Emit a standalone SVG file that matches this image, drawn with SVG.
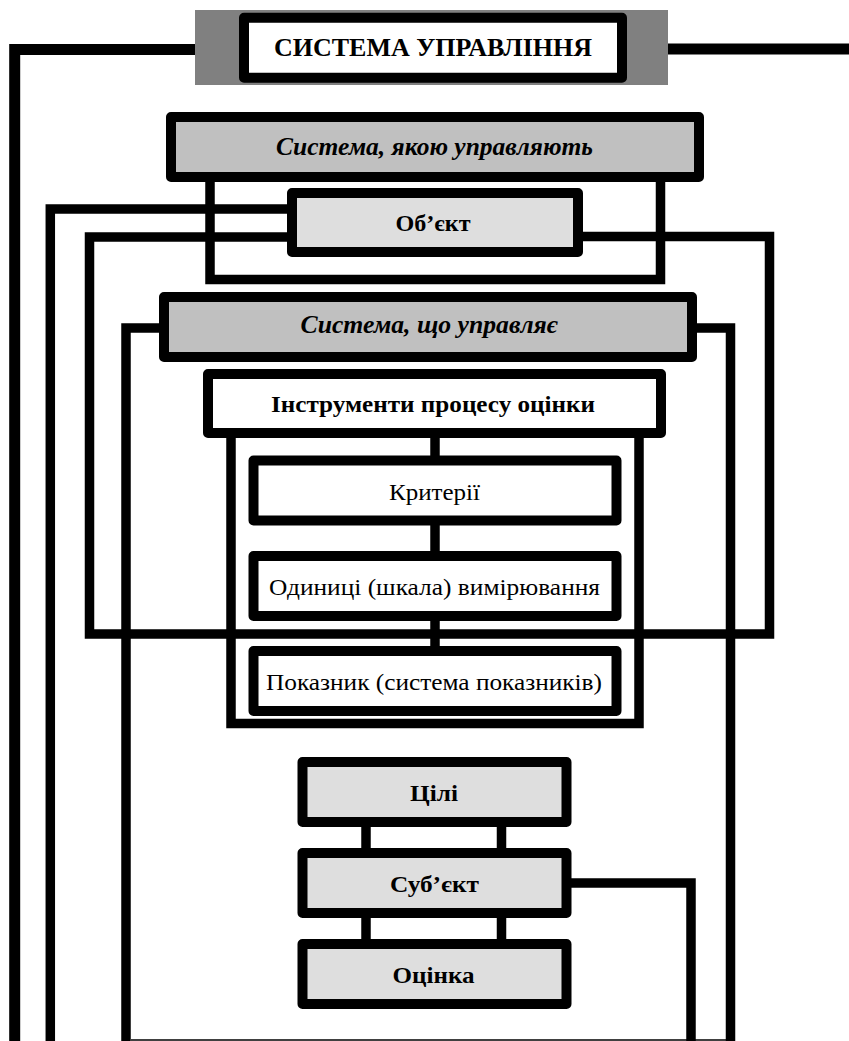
<svg xmlns="http://www.w3.org/2000/svg" width="849" height="1041" viewBox="0 0 849 1041">
<style>
.c{fill:none;stroke:#000;stroke-width:9.5;stroke-linejoin:miter}
.b{stroke:#000;stroke-width:10;stroke-linejoin:round}
.w{fill:#fff}
.g1{fill:#c0c0c0}
.g2{fill:#dedede}
.t{font-family:"Liberation Serif","Times New Roman",serif;font-size:24px;text-anchor:middle;fill:#000}
.bd{font-weight:bold}
.it{font-style:italic}
</style>
<rect width="849" height="1041" fill="#fff"/>
<g id="connectors">
<polyline class="c" style="stroke-width:11" points="200,49.5 14.7,49.5 14.7,1045"/>
<line class="c" style="stroke-width:11" x1="660" y1="49" x2="855" y2="49"/>
<polyline class="c" points="210,180 210,279.5 660.5,279.5 660.5,180"/>
<polyline class="c" points="292,209 50.3,209 50.3,1045"/>
<polyline class="c" points="292,237 89.5,237 89.5,634 769.5,634 769.5,236.5 578,236.5"/>
<polyline class="c" points="165,328 126,328 126,1045"/>
<polyline class="c" points="690,328 730.5,328 730.5,1045"/>
<line x1="131" y1="1040" x2="726" y2="1040" stroke="#000" stroke-width="1.5"/>
<polyline class="c" points="231,430 231,723.5 639,723.5 639,430"/>
<line class="c" x1="435" y1="430" x2="435" y2="660"/>
<line class="c" x1="366" y1="820" x2="366" y2="950"/>
<line class="c" x1="501.5" y1="820" x2="501.5" y2="950"/>
<polyline class="c" points="565,883 691,883 691,1045"/>
</g>
<g id="title">
<rect x="195" y="10" width="473" height="75" fill="#808080"/>
<rect class="b w" x="244" y="17.7" width="378" height="60"/>
<text class="t bd" x="433" y="56" style="font-size:26px" textLength="318" lengthAdjust="spacingAndGlyphs">СИСТЕМА УПРАВЛІННЯ</text>
</g>
<g id="managed-system">
<rect class="b g1" x="171" y="117" width="528" height="60"/>
<text class="t bd it" x="434.5" y="154.5" style="font-size:25px" textLength="317" lengthAdjust="spacingAndGlyphs">Система, якою управляють</text>
</g>
<g id="object">
<rect class="b g2" x="292" y="193" width="286" height="59"/>
<text class="t bd" x="433" y="230.5" textLength="75" lengthAdjust="spacingAndGlyphs">Об’єкт</text>
</g>
<g id="managing-system">
<rect class="b g1" x="164" y="297" width="528" height="60"/>
<text class="t bd it" x="429" y="333" style="font-size:25px" textLength="257" lengthAdjust="spacingAndGlyphs">Система, що управляє</text>
</g>
<g id="tools">
<rect class="b w" x="208" y="374" width="453" height="59"/>
<text class="t bd" x="433" y="411.5" textLength="324" lengthAdjust="spacingAndGlyphs">Інструменти процесу оцінки</text>
</g>
<g id="criteria">
<rect class="b w" x="253.5" y="460.5" width="363" height="60"/>
<text class="t" x="434.5" y="500" textLength="91" lengthAdjust="spacingAndGlyphs">Критерії</text>
</g>
<g id="units">
<rect class="b w" x="253.5" y="556" width="363" height="60"/>
<text class="t" x="434.5" y="595" textLength="331" lengthAdjust="spacingAndGlyphs">Одиниці (шкала) вимірювання</text>
</g>
<g id="indicator">
<rect class="b w" x="253.5" y="651" width="363" height="60"/>
<text class="t" x="434" y="689.5" textLength="336" lengthAdjust="spacingAndGlyphs">Показник (система показників)</text>
</g>
<g id="goals">
<rect class="b g2" x="302.5" y="762" width="264" height="60"/>
<text class="t bd" x="434" y="800.5" textLength="48" lengthAdjust="spacingAndGlyphs">Цілі</text>
</g>
<g id="subject">
<rect class="b g2" x="302.5" y="853" width="264" height="60"/>
<text class="t bd" x="434.5" y="891.5" textLength="89" lengthAdjust="spacingAndGlyphs">Суб’єкт</text>
</g>
<g id="evaluation">
<rect class="b g2" x="302.5" y="944" width="264" height="60"/>
<text class="t bd" x="433.6" y="982.5" textLength="82" lengthAdjust="spacingAndGlyphs">Оцінка</text>
</g>
</svg>
